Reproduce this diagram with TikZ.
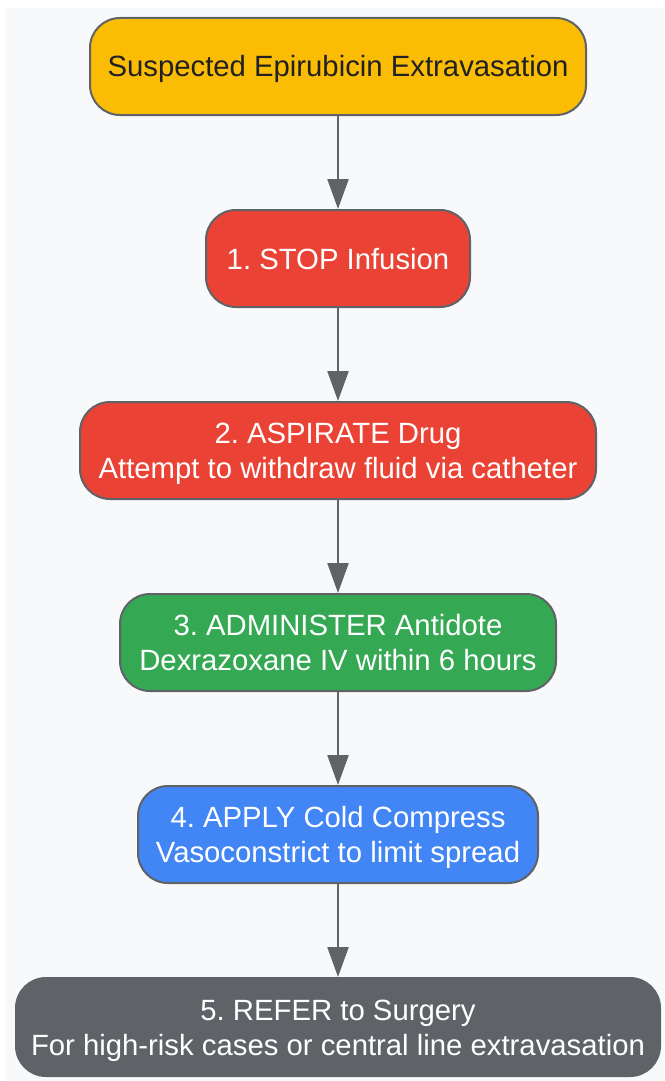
\documentclass[tikz,border=0pt]{standalone}
\usepackage{fontspec}
\setmainfont{Liberation Sans}
\usetikzlibrary{arrows.meta}
\definecolor{bg}{HTML}{F8F9FA}
\definecolor{edge}{HTML}{5F6368}
\definecolor{yel}{HTML}{FBBC04}
\definecolor{redc}{HTML}{EA4335}
\definecolor{grn}{HTML}{34A853}
\definecolor{blu}{HTML}{4285F4}
\definecolor{gry}{HTML}{5F6368}
\definecolor{darktext}{HTML}{202124}
\begin{document}
\begin{tikzpicture}[x=1pt,y=-1pt,
  box/.style={draw=edge, line width=2pt, rounded corners=30pt, align=center,
    font=\fontsize{29.3}{35}\selectfont\frenchspacing, inner sep=0pt, text=white, minimum height=97pt},
  one/.style={text height=21pt, text depth=0pt},
  two/.style={text height=56pt, text depth=0pt},
  conn/.style={draw=edge, line width=2.4pt, -{Triangle[width=21pt,length=30pt]}}]
\useasboundingbox (0,0) rectangle (664,1081);
\fill[bg] (6,8) rectangle (664,1081);
\node[box, one, fill=yel, text=darktext, minimum width=496pt] (n0) at (338,66.5) {Suspected Epirubicin Extravasation};
\node[box, one, fill=redc, minimum width=264pt] (n1) at (338,258.5) {1. STOP Infusion};
\node[box, two, fill=redc, minimum width=516pt] (n2) at (338,450.5) {2. ASPIRATE Drug\\Attempt to withdraw fluid via catheter};
\node[box, two, fill=grn, minimum width=436pt] (n3) at (338,642.5) {3. ADMINISTER Antidote\\Dexrazoxane IV within 6 hours};
\node[box, two, fill=blu, minimum width=400pt] (n4) at (338,834.5) {4. APPLY Cold Compress\\Vasoconstrict to limit spread};
\node[box, two, fill=gry, minimum width=644pt, minimum height=98pt] (n5) at (338,1027) {5. REFER to Surgery\\For high-risk cases or central line extravasation};
\draw[conn] (n0) -- (n1);
\draw[conn] (n1) -- (n2);
\draw[conn] (n2) -- (n3);
\draw[conn] (n3) -- (n4);
\draw[conn] (n4) -- (n5);
\end{tikzpicture}
\end{document}
